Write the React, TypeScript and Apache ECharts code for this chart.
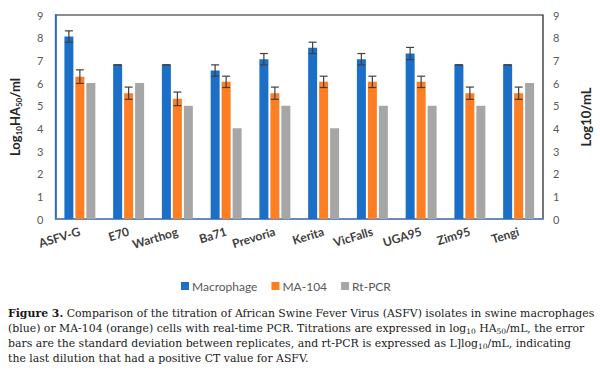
import React, { useEffect, useRef } from "react";
import * as echarts from "echarts";

const categories = ["ASFV-G", "E70", "Warthog", "Ba71", "Prevoria", "Kerita", "VicFalls", "UGA95", "Zim95", "Tengi"];
const macrophage = [8.05, 6.8, 6.8, 6.55, 7.05, 7.55, 7.05, 7.3, 6.8, 6.8];
const macrophageSD = [0.25, 0, 0, 0.25, 0.25, 0.25, 0.25, 0.27, 0, 0];
const ma104 = [6.28, 5.55, 5.3, 6.05, 5.55, 6.05, 6.05, 6.05, 5.55, 5.55];
const ma104SD = [0.3, 0.27, 0.3, 0.25, 0.27, 0.25, 0.25, 0.25, 0.27, 0.27];
const rtPcr = [6, 6, 5, 4, 5, 4, 5, 5, 5, 6];
const seriesNames = ["Macrophage", "MA-104", "Rt-PCR"];
const yMin = 0;
const yMax = 9;
const yStep = 1;

const captionLines = [
  "{b|Figure 3.} Comparison of the titration of African Swine Fever Virus (ASFV) isolates in swine macrophages",
  "(blue) or MA-104 (orange) cells with real-time PCR. Titrations are expressed in log{s|10} HA{s|50}/mL, the error",
  "bars are the standard deviation between replicates, and rt-PCR is expressed as L]log{s|10}/mL, indicating",
  "the last dilution that had a positive CT value for ASFV.",
];

const BLUE = "#1C6FC6";
const ORANGE = "#FD7E23";
const GRAY = "#A6A6A6";
const FONT = "Lato";
const SERIF = "DejaVu Serif";
const CAP_SIZE = 10.9;
const BAR_W = 9;
const BAR_STEP = 11;

function errorSeries(values: number[], sd: number[], offset: number) {
  return {
    type: "custom",
    z: 5,
    silent: true,
    data: values.map((v, i) => [i, v, sd[i]]),
    encode: { x: 0, y: 1 },
    renderItem: (params: any, api: any) => {
      const c = api.value(0);
      const v = api.value(1);
      const e = api.value(2);
      const x = api.coord([c, v])[0] + offset;
      const yTop = api.coord([c, v + e])[1];
      const yBot = api.coord([c, v - e])[1];
      const st = { stroke: "#404040", lineWidth: 1.2 };
      return {
        type: "group",
        children: [
          { type: "line", shape: { x1: x, y1: yTop, x2: x, y2: yBot }, style: st },
          { type: "line", shape: { x1: x - 4, y1: yTop, x2: x + 4, y2: yTop }, style: st },
          { type: "line", shape: { x1: x - 4, y1: yBot, x2: x + 4, y2: yBot }, style: st },
        ],
      };
    },
  };
}

export default function App() {
  const ref = useRef<HTMLDivElement>(null);
  useEffect(() => {
    document.body.style.margin = "0";
    const chart = echarts.init(ref.current!, null, { renderer: "svg" });
    const axisLabel = { fontFamily: FONT, fontSize: 11, color: "#595959" };
    chart.setOption({
      animation: false,
      backgroundColor: "#ffffff",
      grid: {
        left: 54,
        right: 55,
        top: 15,
        bottom: 158,
        show: true,
        borderColor: "#1a1a1a",
        borderWidth: 1.2,
      },
      legend: {
        left: 176,
        top: 275,
        itemWidth: 8,
        itemHeight: 8,
        itemGap: 14,
        icon: "rect",
        data: seriesNames,
        textStyle: { fontFamily: FONT, fontSize: 12, color: "#595959", padding: [0, 0, 0, -2] },
      },
      xAxis: {
        type: "category",
        data: categories,
        axisTick: { show: false },
        axisLine: { show: true, lineStyle: { color: "#5B8BD0", width: 1.6 } },
        axisLabel: {
          rotate: 17,
          interval: 0,
          margin: 12,
          fontFamily: FONT,
          fontSize: 12,
          fontWeight: "bold",
          color: "#404040",
        },
      },
      yAxis: [
        {
          type: "value",
          min: yMin,
          max: yMax,
          interval: yStep,
          splitLine: { show: false },
          axisTick: { show: false },
          axisLine: { show: true, lineStyle: { color: "#2F75C5", width: 1.8 } },
          axisLabel: { ...axisLabel, margin: 12 },
          name: "{a|Log}{s|10}{a|HA}{s|50}{a|/ml}",
          nameLocation: "middle",
          nameRotate: 90,
          nameGap: 33,
          nameTextStyle: {
            rich: {
              a: { fontFamily: FONT, fontSize: 13, fontWeight: "bold", color: "#262626", lineHeight: 16 },
              s: { fontFamily: FONT, fontSize: 8, fontWeight: "bold", color: "#262626", lineHeight: 10, verticalAlign: "bottom" },
            },
          },
        },
        {
          type: "value",
          position: "right",
          min: yMin,
          max: yMax,
          interval: yStep,
          splitLine: { show: false },
          axisTick: { show: false },
          axisLine: { show: false },
          axisLabel: { ...axisLabel, margin: 10 },
          name: "Log10/mL",
          nameLocation: "middle",
          nameRotate: 90,
          nameGap: 36,
          nameTextStyle: { fontFamily: FONT, fontSize: 13, fontWeight: "bold", color: "#262626" },
        },
      ],
      series: [
        { name: seriesNames[0], type: "bar", data: macrophage, barWidth: BAR_W, barGap: "22%", itemStyle: { color: BLUE } },
        { name: seriesNames[1], type: "bar", data: ma104, barWidth: BAR_W, barGap: "22%", itemStyle: { color: ORANGE } },
        { name: seriesNames[2], type: "bar", data: rtPcr, barWidth: BAR_W, barGap: "22%", itemStyle: { color: GRAY } },
        errorSeries(macrophage, macrophageSD, -BAR_STEP),
        errorSeries(ma104, ma104SD, 0),
      ],
      graphic: captionLines.map((t, i) => ({
        type: "text",
        x: 8,
        y: 313 + i * 15,
        style: {
          text: t,
          fontFamily: SERIF,
          fontSize: CAP_SIZE,
          fill: "#1a1a1a",
          verticalAlign: "middle",
          lineHeight: 15,
          rich: {
            b: { fontFamily: SERIF, fontSize: CAP_SIZE, fontWeight: "bold", fill: "#1a1a1a", lineHeight: 15 },
            s: { fontFamily: SERIF, fontSize: 7.5, fill: "#1a1a1a", lineHeight: 9, verticalAlign: "bottom" },
          },
        },
      })),
    });
    return () => chart.dispose();
  }, []);
  return <div ref={ref} style={{ position: "fixed", left: 0, top: 0, width: 600, height: 377 }} />;
}
